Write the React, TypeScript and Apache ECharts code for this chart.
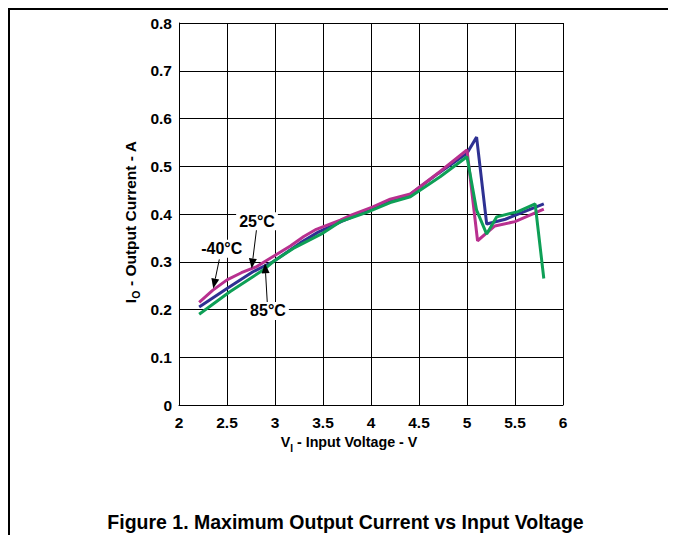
import React, { useEffect, useRef } from "react";
import * as echarts from "echarts";

// ---- data ----
const xMin = 2;
const xMax = 6;
const xStep = 0.5;
const yMin = 0;
const yMax = 0.8;
const yStep = 0.1;

const seriesNames = ["-40°C", "25°C", "85°C"];

const currentMinus40: [number, number][] = [
  [2.21, 0.215], [2.35, 0.24], [2.5, 0.262], [2.65, 0.277], [2.81, 0.29],
  [2.98, 0.311], [3.16, 0.333], [3.3, 0.353], [3.43, 0.368], [3.68, 0.387],
  [3.8, 0.398], [4.02, 0.415], [4.2, 0.431], [4.41, 0.442], [4.72, 0.489],
  [5.0, 0.534], [5.11, 0.344], [5.29, 0.375], [5.5, 0.384], [5.8, 0.41],
];

const current25: [number, number][] = [
  [2.21, 0.205], [2.5, 0.244], [2.77, 0.279], [2.98, 0.3], [3.26, 0.339],
  [3.45, 0.362], [3.7, 0.385], [4.0, 0.41], [4.2, 0.428], [4.4, 0.44],
  [4.7, 0.485], [5.0, 0.527], [5.1, 0.561], [5.205, 0.379], [5.4, 0.389],
  [5.8, 0.421],
];

const current85: [number, number][] = [
  [2.21, 0.19], [2.53, 0.237], [2.88, 0.283], [2.98, 0.3], [3.19, 0.328],
  [3.5, 0.36], [3.68, 0.384], [3.95, 0.403], [4.2, 0.424], [4.41, 0.436],
  [4.72, 0.478], [5.0, 0.52], [5.1, 0.408], [5.205, 0.358], [5.31, 0.394],
  [5.53, 0.405], [5.71, 0.421], [5.8, 0.265],
];

// annotation anchors in data units: label centre, arrow start, arrow tip
const annotationLabels = ["-40°C", "25°C", "85°C"];
const annotationLabelAt: [number, number][] = [[2.445, 0.327], [2.8125, 0.385], [2.927, 0.197]];
const annotationArrowFrom: [number, number][] = [[2.42, 0.305], [2.809, 0.37], [2.92, 0.213]];
const annotationArrowTip: [number, number][] = [[2.357, 0.244], [2.757, 0.286], [2.896, 0.297]];

const titleText = "Figure 1. Maximum Output Current vs Input Voltage";

// ---- styles ----
const FONT = "'Liberation Sans', Arial, Helvetica, sans-serif";
const colors = ["#B8308F", "#2E3192", "#0E9F56"];

export default function App() {
  const ref = useRef<HTMLDivElement>(null);

  useEffect(() => {
    if (!ref.current) return;
    const chart = echarts.init(ref.current, null, { renderer: "svg" });

    const lineSeries = (name: string, data: [number, number][], color: string, z: number) => ({
      name,
      type: "line",
      data,
      showSymbol: false,
      symbol: "none",
      z,
      lineStyle: { color, width: 3 },
      itemStyle: { color },
    });

    const baseGraphic: any[] = [
      { type: "line", shape: { x1: 0, y1: 1, x2: 668, y2: 1 }, style: { stroke: "#000", lineWidth: 2 } },
      { type: "line", shape: { x1: 1, y1: 0, x2: 1, y2: 527 }, style: { stroke: "#000", lineWidth: 2 } },
      {
        type: "text",
        x: 337.5,
        y: 514,
        style: {
          text: titleText,
          fontFamily: FONT,
          fontWeight: "bold",
          fontSize: 19.5,
          fill: "#000",
          textAlign: "center",
          textVerticalAlign: "middle",
        },
      },
      {
        type: "text",
        x: 341,
        y: 434,
        style: {
          text: "{m|V}{s|I}{m| - Input Voltage - V}",
          textAlign: "center",
          textVerticalAlign: "middle",
          rich: {
            m: { fontFamily: FONT, fontWeight: "bold", fontSize: 14.3, fill: "#000", lineHeight: 22, verticalAlign: "middle" },
            s: { fontFamily: FONT, fontWeight: "bold", fontSize: 10, fill: "#000", lineHeight: 12, verticalAlign: "bottom" },
          },
        },
      },
      {
        type: "text",
        x: 122,
        y: 214,
        rotation: Math.PI / 2,
        style: {
          text: "{m|I}{s|O}{m| - Output Current - A}",
          textAlign: "center",
          textVerticalAlign: "middle",
          rich: {
            m: { fontFamily: FONT, fontWeight: "bold", fontSize: 15.5, fill: "#000", lineHeight: 22, verticalAlign: "middle" },
            s: { fontFamily: FONT, fontWeight: "bold", fontSize: 10.5, fill: "#000", lineHeight: 12, verticalAlign: "bottom" },
          },
        },
      },
    ];

    chart.setOption({
      animation: false,
      backgroundColor: "#fff",
      grid: { left: 171, top: 15, width: 384, height: 382, containLabel: false },
      xAxis: {
        type: "value",
        min: xMin,
        max: xMax,
        interval: xStep,
        axisLine: { show: true, lineStyle: { color: "#000", width: 1 } },
        axisTick: { show: false },
        splitLine: { show: true, lineStyle: { color: "#000", width: 1 } },
        axisLabel: {
          color: "#000",
          fontFamily: FONT,
          fontWeight: "bold",
          fontSize: 15.5,
          margin: 9,
          formatter: (v: number) => String(v),
        },
      },
      yAxis: {
        type: "value",
        min: yMin,
        max: yMax,
        interval: yStep,
        axisLine: { show: true, lineStyle: { color: "#000", width: 1 } },
        axisTick: { show: false },
        splitLine: { show: true, lineStyle: { color: "#000", width: 1 } },
        axisLabel: {
          color: "#000",
          fontFamily: FONT,
          fontWeight: "bold",
          fontSize: 15.5,
          margin: 7,
          formatter: (v: number) => (v === 0 ? "0" : v.toFixed(1)),
        },
      },
      series: [
        lineSeries(seriesNames[1], current25, colors[1], 2),
        lineSeries(seriesNames[0], currentMinus40, colors[0], 3),
        lineSeries(seriesNames[2], current85, colors[2], 4),
      ],
      graphic: baseGraphic,
    });

    // annotations positioned through the chart's own coordinate system
    const annGraphic: any[] = [];
    for (let i = 0; i < annotationLabels.length; i++) {
      const lp = chart.convertToPixel({ gridIndex: 0 }, annotationLabelAt[i]) as number[];
      const fp = chart.convertToPixel({ gridIndex: 0 }, annotationArrowFrom[i]) as number[];
      const tp = chart.convertToPixel({ gridIndex: 0 }, annotationArrowTip[i]) as number[];
      const dx = tp[0] - fp[0];
      const dy = tp[1] - fp[1];
      const len = Math.sqrt(dx * dx + dy * dy) || 1;
      const ux = dx / len;
      const uy = dy / len;
      const headLen = 10;
      const headHalf = 4;
      const bx = tp[0] - ux * headLen;
      const by = tp[1] - uy * headLen;
      annGraphic.push({
        type: "line",
        z: 10,
        shape: { x1: fp[0], y1: fp[1], x2: bx, y2: by },
        style: { stroke: "#000", lineWidth: 1 },
      });
      annGraphic.push({
        type: "polygon",
        z: 10,
        shape: {
          points: [
            [tp[0], tp[1]],
            [bx - uy * headHalf, by + ux * headHalf],
            [bx + uy * headHalf, by - ux * headHalf],
          ],
        },
        style: { fill: "#000" },
      });
      annGraphic.push({
        type: "text",
        z: 11,
        x: lp[0],
        y: lp[1],
        style: {
          text: annotationLabels[i],
          fontFamily: FONT,
          fontWeight: "bold",
          fontSize: 16,
          fill: "#000",
          textAlign: "center",
          textVerticalAlign: "middle",
          backgroundColor: "#fff",
          padding: [1, 3, 1, 3],
        },
      });
    }
    chart.setOption({ graphic: [...baseGraphic, ...annGraphic] });

    return () => chart.dispose();
  }, []);

  return <div ref={ref} style={{ width: 668, height: 527 }} />;
}
